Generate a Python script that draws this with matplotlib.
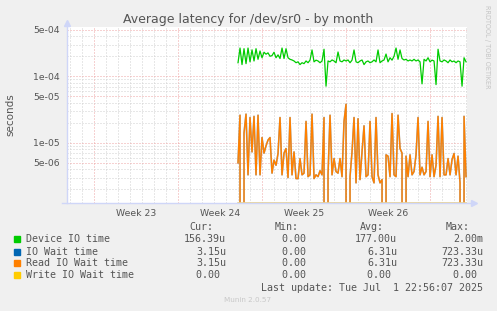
import matplotlib
matplotlib.use("Agg")
import matplotlib.pyplot as plt
import numpy as np
from matplotlib.patches import Rectangle
from matplotlib.lines import Line2D

# --- DATA (latency in microseconds, one sample every 4 hours) ---
start_day = 12.0          # days after the start of Week 23
step_hours = 4.0

device_io_us = [
    160, 266, 150, 260, 155, 266, 165, 250, 170, 260, 180, 240, 190, 230, 215, 225,
    200, 205, 230, 190, 210, 185, 266, 185, 260, 190, 180, 176, 170, 160, 165, 150,
    160, 155, 170, 160, 175, 249, 165, 175, 170, 160, 170, 255, 71, 170, 165, 176,
    170, 160, 232, 170, 165, 176, 170, 176, 160, 175, 249, 165, 160, 170, 176, 150,
    165, 170, 160, 165, 176, 165, 249, 160, 170, 176, 216, 165, 190, 175, 200, 266,
    180, 249, 185, 176, 180, 170, 176, 170, 180, 170, 176, 165, 77, 180, 170, 190,
    165, 175, 170, 75, 255, 170, 165, 176, 170, 160, 176, 165, 170, 160, 170, 165,
    71, 190, 165,
]

read_wait_us = [
    5.0, 26, 0, 14, 27, 3.3, 24, 7.3, 25, 3.3, 26, 3.3, 12, 7.0, 9.0, 11,
    12, 3.5, 5.5, 4.6, 6.9, 24, 3.3, 7.0, 8.2, 3.0, 24, 3.3, 7.3, 2.9, 2.9, 5.8,
    3.3, 3.5, 21, 3.1, 3.3, 27, 2.9, 3.3, 3.1, 3.8, 3.3, 24, 0, 3.3, 26, 3.3,
    5.8, 3.7, 3.5, 5.8, 3.1, 21, 38, 0,
    3.1, 7.3, 24, 2.5, 23, 2.8, 7.3, 18, 3.1, 3.3, 21, 3.1, 2.5, 24, 3.3, 2.5,
    2.8, 0, 6.6, 6.3, 3.1, 27.6, 3.3, 3.1, 26, 8.2, 7.0, 0, 6.3, 3.1, 6.6, 3.3,
    3.7, 6.6, 24, 3.3, 4.3, 3.3, 3.7, 21, 3.1, 6.6, 3.1, 4.6, 25, 3.1, 24, 3.3,
    3.3, 5.8, 3.3, 5.6, 6.9, 3.3, 6.3, 2.5, 0, 25, 3.1,
]

io_wait_us = list(read_wait_us)          # identical to read wait
write_wait_us = [0.0] * len(read_wait_us)

week_labels = ["Week 23", "Week 24", "Week 25", "Week 26"]
ytick_vals = [5e-4, 1e-4, 5e-5, 1e-5, 5e-6]
ytick_labels = ["5e-04", "1e-04", "5e-05", "1e-05", "5e-06"]

legend_names = ["Device IO time", "IO Wait time", "Read IO Wait time", "Write IO Wait time"]
legend_colors = ["#00CC00", "#0066B3", "#FF8000", "#FFCC00"]
legend_cur = ["156.39u", "3.15u", "3.15u", "0.00 "]
legend_min = ["0.00 ", "0.00 ", "0.00 ", "0.00 "]
legend_avg = ["177.00u", "6.31u", "6.31u", "0.00 "]
legend_max = ["2.00m", "723.33u", "723.33u", "0.00 "]
last_update = "Last update: Tue Jul  1 22:56:07 2025"

# --- STYLE ---
W, H = 497, 311
BG = "#F0F0F0"
FONT_C = "#555555"
AXIS_C = "#CFD6F8"
GRID_C = "#D0D0D0"
MGRID_C = "#EEA4A4"
ymin, ymax = 1.245e-6, 5.51e-4
xmin, xmax = -2.25, 31.08


def fx(px):
    return px / W


def fy(py):
    return 1 - py / H


fig = plt.figure(figsize=(W / 100, H / 100), dpi=100, facecolor=BG)
ax = fig.add_axes([fx(67), fy(203), fx(467) - fx(67), (203 - 27) / H])
ax.set_facecolor("white")
ax.set_yscale("log")
ax.set_xlim(xmin, xmax)
ax.set_ylim(ymin, ymax)
for s in ax.spines.values():
    s.set_visible(False)

# grid: days (gray) and weeks (red)
dotted = (0, (1, 2))
for d in range(-2, 32):
    c = MGRID_C if d % 7 == 0 else GRID_C
    ax.axvline(d, color=c, lw=0.72, ls=dotted, zorder=1)
for k in range(-6, -3):
    for m in range(1, 10):
        v = m * 10.0 ** k
        if v < ymin or v > ymax:
            continue
        c = MGRID_C if m in (1, 5) else GRID_C
        ax.axhline(v, color=c, lw=0.72, ls=dotted, zorder=1)

# series
t_dev = start_day + np.arange(len(device_io_us)) * step_hours / 24
t_wait = start_day + np.arange(len(read_wait_us)) * step_hours / 24
dev = np.array(device_io_us) * 1e-6
iow = np.array(io_wait_us) * 1e-6
rdw = np.array(read_wait_us) * 1e-6
wrw = np.maximum(np.array(write_wait_us) * 1e-6, ymin)

ax.plot(t_dev, dev, color=legend_colors[0], lw=0.9, zorder=3)
ax.plot(t_wait, iow, color=legend_colors[1], lw=1.2, zorder=3, alpha=0.45)
ax.plot(t_wait, rdw, color=legend_colors[2], lw=1.05, zorder=4)
ax.plot(t_wait, wrw, color="#E8D08A", lw=1.2, zorder=5, clip_on=False)

# ticks
ax.set_yticks(ytick_vals, ytick_labels)
ax.minorticks_off()
ax.set_xticks([3.5 + 7 * i for i in range(len(week_labels))], week_labels)
ax.tick_params(axis="both", length=0, labelsize=6.7, labelcolor=FONT_C)
ax.tick_params(axis="y", pad=5)
ax.tick_params(axis="x", pad=4)

# axis lines with arrows
fig.add_artist(Line2D([fx(67), fx(67)], [fy(203), fy(24)], color=AXIS_C, lw=1))
fig.add_artist(Line2D([fx(62), fx(474)], [fy(203), fy(203)], color=AXIS_C, lw=1))
fig.add_artist(Line2D([fx(67)], [fy(23)], marker="^", ms=5, color=AXIS_C, mec=AXIS_C))
fig.add_artist(Line2D([fx(474)], [fy(203)], marker=">", ms=5, color=AXIS_C, mec=AXIS_C))

# title / labels
fig.text(fx(248.5), fy(19), "Average latency for /dev/sr0 - by month", ha="center",
         va="center", fontsize=9, color=FONT_C)
fig.text(fx(10), fy(115), "seconds", rotation=90, ha="center", va="center",
         fontsize=7.5, color=FONT_C)
fig.text(fx(487), fy(5), "RRDTOOL / TOBI OETIKER", rotation=270, ha="center", va="top",
         fontsize=4.7, color="#C4C4C4")

# legend table
mono = "DejaVu Sans Mono"
lf = 7.2
rows_y = [239.3, 251.7, 263.3, 275.3]
col_right = [226, 312, 397, 483]
headers = ["Cur:", "Min:", "Avg:", "Max:"]
for cx, h in zip(col_right, headers):
    fig.text(fx(cx - 13), fy(227), h, ha="right", va="center", fontsize=lf,
             family=mono, color=FONT_C)
for i, name in enumerate(legend_names):
    yy = rows_y[i]
    fig.add_artist(Rectangle((fx(14), fy(yy + 3)), 6 / W, 6 / H, color=legend_colors[i],
                             transform=fig.transFigure))
    fig.text(fx(26), fy(yy), name, ha="left", va="center", fontsize=lf, family=mono,
             color=FONT_C)
    vals = [legend_cur[i], legend_min[i], legend_avg[i], legend_max[i]]
    for cx, v in zip(col_right, vals):
        fig.text(fx(cx), fy(yy), v, ha="right", va="center", fontsize=lf, family=mono,
                 color=FONT_C)
fig.text(fx(483), fy(287.7), last_update, ha="right", va="center", fontsize=lf,
         family=mono, color=FONT_C)
fig.text(fx(248), fy(300), "Munin 2.0.57", ha="center", va="center", fontsize=5.2,
         color="#C8C8C8")

fig.savefig("out.png", dpi=100, facecolor=BG)
